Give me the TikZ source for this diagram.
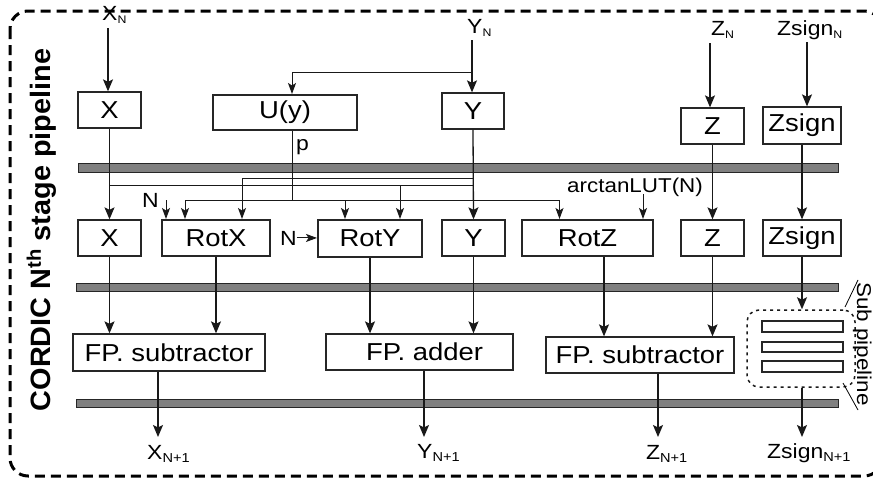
\documentclass[tikz,border=0pt]{standalone}
\usepackage{fontspec}
\setmainfont{Liberation Sans}[FakeStretch=1.12]
\newfontfamily\titlefont{Liberation Sans}[FakeStretch=1.03]
\usetikzlibrary{arrows.meta}
\newcommand\sbs[2][11]{\raisebox{-3.5pt}{\fontsize{#1}{#1}\selectfont #2}}
\begin{document}
\begin{tikzpicture}[x=1pt,y=-1pt,
  box/.style={draw=black!85, line width=1.3pt, minimum height=36pt, inner sep=0pt, font=\fontsize{24.5}{28}\selectfont},
  tbox/.style={box, line width=2pt},
  bar/.style={fill=black!50, draw=black!85, line width=1pt},
  lab/.style={inner sep=0pt, font=\fontsize{20.5}{24}\selectfont},
  marr/.style={line width=1.3pt, draw=black!90, -{Stealth[length=12pt,width=10pt,inset=2.5pt]}},
  tarr/.style={line width=1pt, draw=black!90, -{Stealth[length=11pt,width=8pt,inset=2.5pt]}},
  wire/.style={line width=1pt, draw=black!90}
]
\useasboundingbox (0,0) rectangle (873,479);
\clip (0,0) rectangle (873,479);
% outer frame
\draw[line width=3pt, dash pattern=on 10pt off 6pt, rounded corners=18pt] (10,11) rectangle (882,476);
% title
\node[rotate=90, anchor=base, inner sep=0pt, font=\titlefont\bfseries\fontsize{28}{32}\selectfont] (title) at (50,230) {CORDIC N\textsuperscript{th} stage pipeline};

% pipeline bars
\node[bar, inner sep=0pt, minimum width=760pt, minimum height=9pt] (bar1) at (458,167.5) {};
\node[bar, inner sep=0pt, minimum width=762pt, minimum height=8pt] (bar2) at (457,287) {};
\node[bar, inner sep=0pt, minimum width=762pt, minimum height=8pt] (bar3) at (457,403) {};

% row 1
\node[box, minimum width=63pt] (xa) at (109.5,110) {X};
\node[tbox, minimum width=144pt, minimum height=35pt] (u) at (285,112.5) {U(y)};
\node[box, minimum width=62pt] (ya) at (473,111) {Y};
\node[box, minimum width=63pt] (za) at (712.5,126) {Z};
\node[box, minimum width=78pt, minimum height=37pt] (sa) at (802,125.5) {Zsign};
% row 2
\node[box, minimum width=63pt] (xb) at (109.5,238) {X};
\node[tbox, minimum width=108pt] (rx) at (216,238) {RotX};
\node[tbox, minimum width=104pt, minimum height=37pt] (ry) at (370,238.5) {RotY};
\node[box, minimum width=63pt] (yb) at (473.5,238) {Y};
\node[tbox, minimum width=131pt] (rz) at (587.5,238) {RotZ};
\node[box, minimum width=63pt] (zb) at (712.5,238) {Z};
\node[box, minimum width=78pt] (sb) at (802,238) {Zsign};
% row 3
\node[box, minimum width=192pt, minimum height=37pt] (f1) at (169,352.5) {FP. subtractor};
\node[box, minimum width=187pt] (f2) at (419.5,352) {\hspace*{10pt}FP. adder};
\node[box, minimum width=188pt] (f3) at (640,355) {FP. subtractor};
% sub pipeline
\node[draw=black!90, line width=1.5pt, dash pattern=on 3pt off 4pt, rounded corners=12pt, minimum width=108pt, minimum height=77pt, inner sep=0pt] (sp) at (801,348.5) {};
\node[draw=black!85, line width=1.2pt, minimum width=81pt, minimum height=11pt, inner sep=0pt] (sp1) at (802.5,326.5) {};
\node[draw=black!85, line width=1.2pt, minimum width=81pt, minimum height=10pt, inner sep=0pt] (sp2) at (802.5,347) {};
\node[draw=black!85, line width=1.2pt, minimum width=81pt, minimum height=11pt, inner sep=0pt] (sp3) at (802.5,366.5) {};
\node[rotate=-90, anchor=base, inner sep=0pt, font=\fontsize{20}{24}\selectfont] (spl) at (857,344) {Sub pipeline};
\draw[line width=0.8pt] (845,307) -- (858,280);
\draw[line width=0.8pt] (843,383) -- (858,410);

% labels
\node[lab, anchor=base west] (xn) at (102,20) {X\sbs{N}};
\node[lab, anchor=base west] (yn) at (467,33) {Y\sbs{N}};
\node[lab, anchor=base west] (zn) at (711,35) {Z\sbs{N}};
\node[lab, anchor=base west] (sn) at (777,35) {Zsign\sbs{N}};
\node[lab, anchor=base west] (xo) at (147,459) {X\sbs[13]{N+1}};
\node[lab, anchor=base west] (yo) at (417,458) {Y\sbs[13]{N+1}};
\node[lab, anchor=base west] (zo) at (646,459) {Z\sbs[13]{N+1}};
\node[lab, anchor=base west] (so) at (767,458) {Zsign\sbs[13]{N+1}};
\node[lab, anchor=base west] (p) at (296,150) {p};
\node[lab, anchor=base west] (nrx) at (142,207) {N};
\node[lab, anchor=base west] (nry) at (280,245) {N};
\node[lab, anchor=base west, font=\fontsize{20}{24}\selectfont] (lut) at (567,192) {arctanLUT(N)};

% coordinates
\coordinate (xin) at (108,28);
\coordinate (yin) at (472,40);
\coordinate (zin) at (710,43);
\coordinate (sin) at (807,42);
\coordinate (yj) at (472,72);
\coordinate (xj) at (109.5,185);
\coordinate (yj2) at (473,178);
\coordinate (pj) at (292,200);
\coordinate (nrxs) at (166,200);
\coordinate (lutj) at (643,194);
\coordinate (xout) at (158,437);
\coordinate (yout) at (424,437);
\coordinate (zout) at (658,437);
\coordinate (sout) at (802,437);

% inputs
\draw[marr] (xin) -- (xin |- xa.north);
\draw[marr] (yin) -- (yin |- ya.north);
\draw[tarr] (yj) -| ([xshift=7pt]u.north);
\draw[marr] (zin) -- (zin |- za.north);
\draw[marr] (sin) -- (sin |- sa.north);

% row 1 -> row 2
\draw[marr] (xa.south) -- (xb.north);
\draw[marr] (ya.south) -- (yb.north);
\draw[marr] (za.south) -- (zb.north);
\draw[marr] (sa.south) -- (sb.north);
\draw[wire] (xj) -- (xj -| yb.north);
\draw[tarr] (xj) -| ([xshift=30pt]ry.north);
\draw[tarr] (yj2) -| ([xshift=26pt]rx.north);
\draw[wire] ([xshift=7pt]u.south) -- (pj);
\draw[tarr] (pj) -| ([xshift=-31pt]rx.north);
\draw[tarr] (pj) -| ([xshift=-25pt]ry.north);
\draw[tarr] (pj) -| ([xshift=-28pt]rz.north);
\draw[tarr] (nrxs) -- (nrxs |- rx.north);
\draw[tarr] (nry.east) -- (nry.east -| ry.west);
\draw[tarr] (lutj) -- (lutj |- rz.north);

% row 2 -> row 3
\draw[marr] (xb.south) -- (xb.south |- f1.north);
\draw[marr] (rx.south) -- (rx.south |- f1.north);
\draw[marr] (ry.south) -- (ry.south |- f2.north);
\draw[marr] (yb.south) -- (yb.south |- f2.north);
\draw[marr] ([xshift=16.5pt]rz.south) -- ([xshift=16.5pt]rz.south |- f3.north);
\draw[marr] (zb.south) -- (zb.south |- f3.north);
\draw[marr] (sb.south) -- (sb.south |- sp.north);

% outputs
\draw[marr] (f1.south -| xout) -- (xout);
\draw[marr] (f2.south -| yout) -- (yout);
\draw[marr] (f3.south -| zout) -- (zout);
\draw[marr] (sp.south -| sout) -- (sout);
\end{tikzpicture}
\end{document}
